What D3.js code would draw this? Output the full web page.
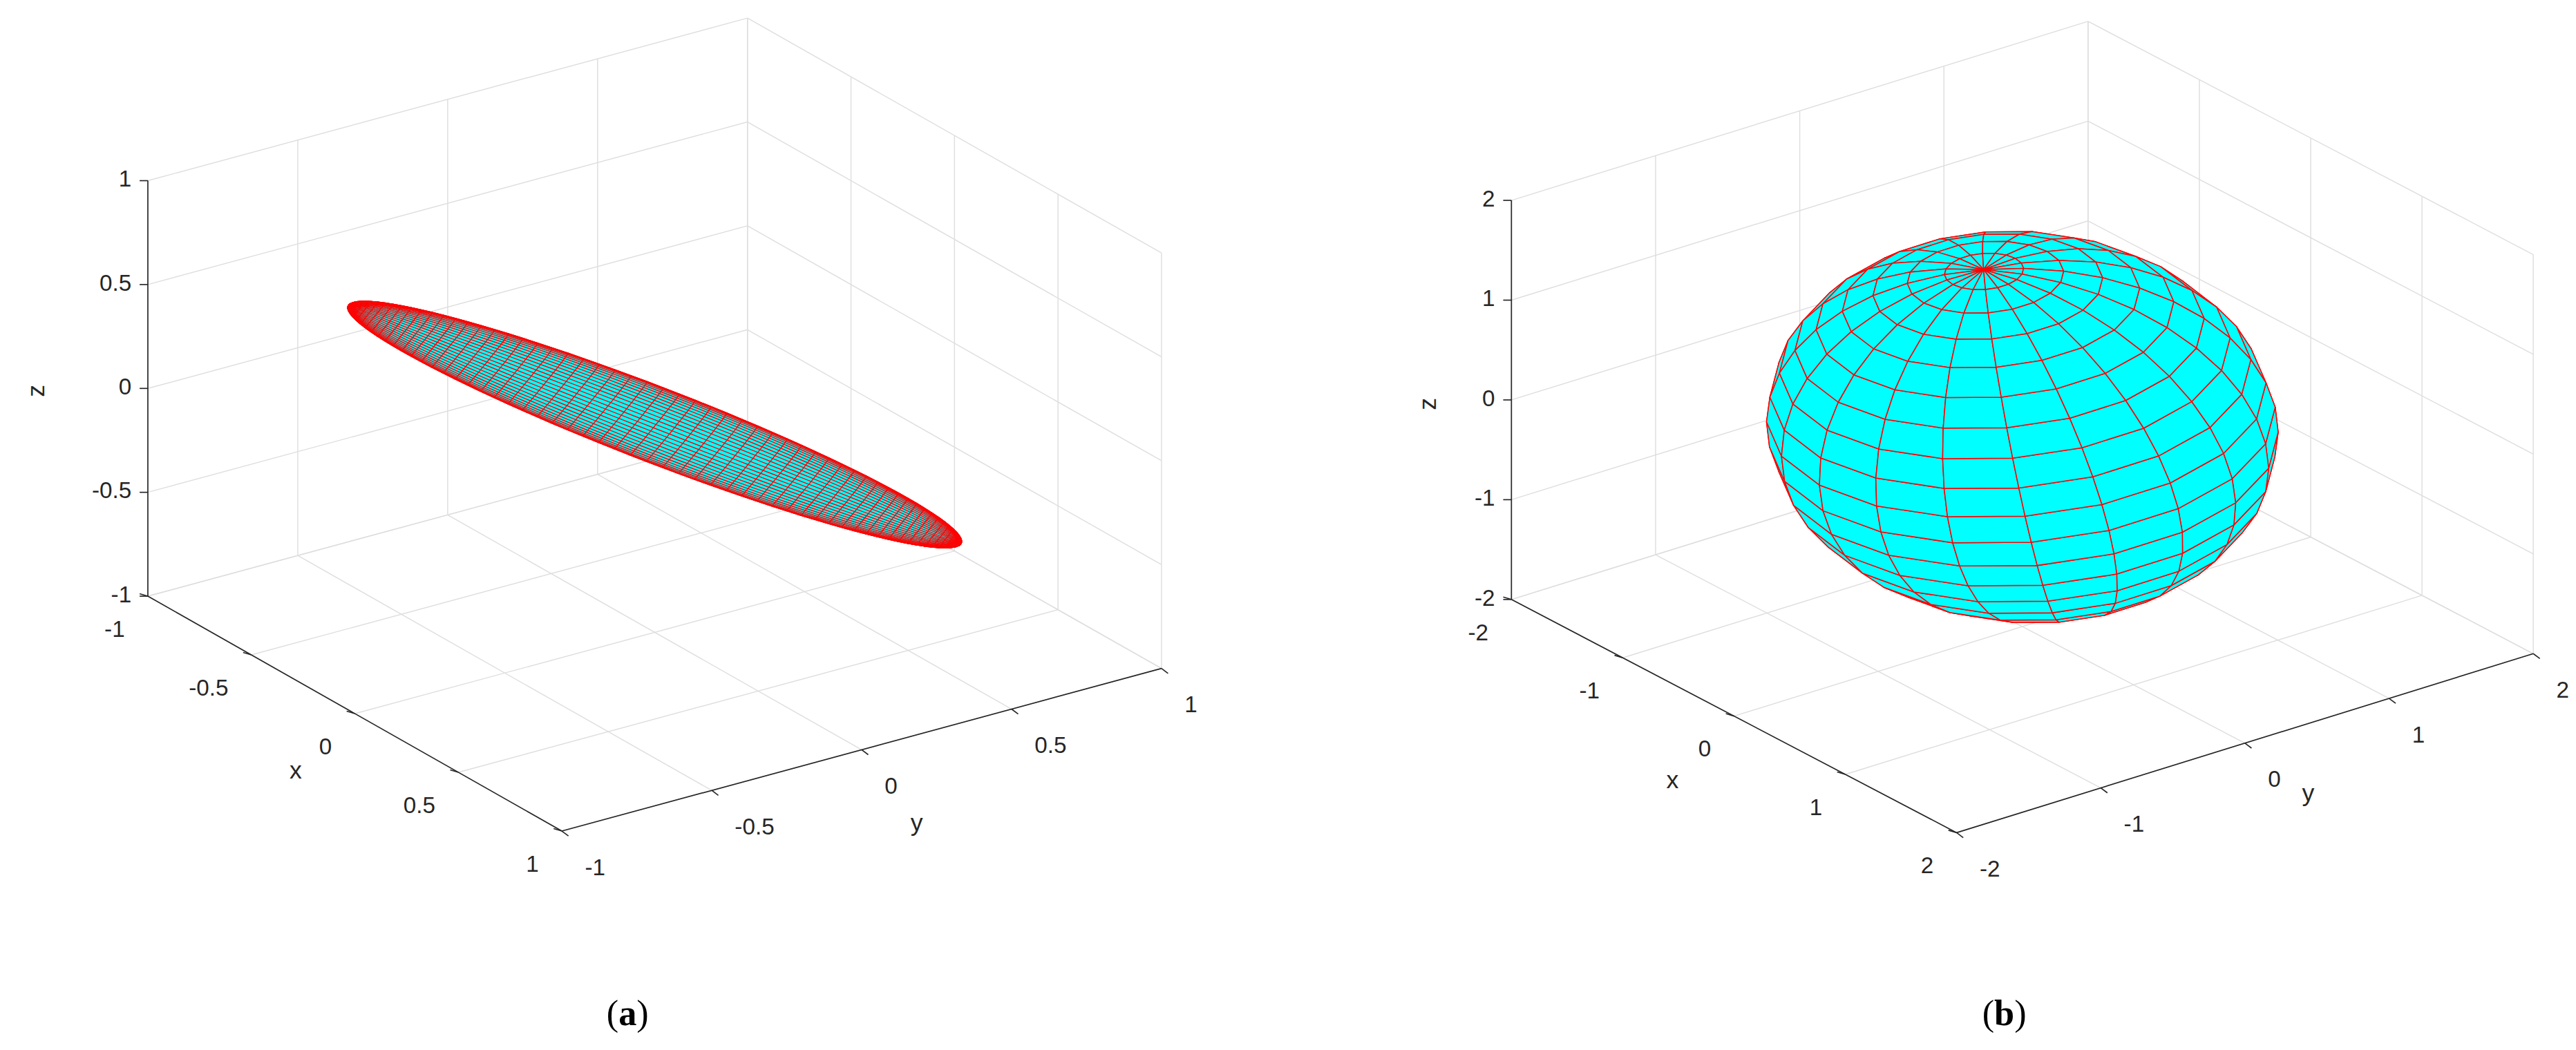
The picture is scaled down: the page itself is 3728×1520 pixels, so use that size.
<!DOCTYPE html>
<html><head><meta charset="utf-8">
<script src="https://cdn.jsdelivr.net/npm/d3@7"></script>
<style>body{margin:0;background:#fff}</style></head>
<body><svg id="c" width="3728" height="1520"></svg>
<script>
// ---- data ----
const ticksA = [-1, -0.5, 0, 0.5, 1];
const ticksB = [-2, -1, 0, 1, 2];
const labelsA = ["-1", "-0.5", "0", "0.5", "1"];
const labelsB = ["-2", "-1", "0", "1", "2"];
// ellipsoid (a): flat disc, axis vectors (long axis = pole axis)
const discLong = [0.03, 1, -0.95];
const discWide = [0.018, -0.095, -0.1];
const discDepth = [0.6, -0.41, 0.5];
const meshA = 60;
// ellipsoid (b): semi-axes and tilt (deg about x)
const radiiB = [1.4, 1.4, 1.72];
const tiltB = 9;
const meshB = 20;
const captions = ["a", "b"];

const K = 3728 / 1568;
const svg = d3.select("#c");
const root = svg.append("g").attr("transform", `scale(${K})`);
const view = [1, -0.685, 0.832];
const font = "'Liberation Sans', Arial, sans-serif";

function panel(cfg) {
  const g = root.append("g");
  const [lo, hi] = [cfg.ticks[0], cfg.ticks[cfg.ticks.length - 1]];
  const sx = d3.scaleLinear().domain([lo, hi]).range([0, 1]);
  const P = (x, y, z) => {
    const u = sx(x), v = sx(y), w = sx(z);
    return [cfg.o[0] + cfg.ex[0] * u + cfg.ey[0] * v,
            cfg.o[1] + cfg.ex[1] * u + cfg.ey[1] * v + cfg.ez * w];
  };
  const line = (a, b, col, wd) => g.append("line")
    .attr("x1", a[0]).attr("y1", a[1]).attr("x2", b[0]).attr("y2", b[1])
    .attr("stroke", col).attr("stroke-width", wd);
  const grid = "#dedede";
  cfg.ticks.forEach(t => {
    line(P(t, lo, lo), P(t, hi, lo), grid, 0.6);
    line(P(lo, t, lo), P(hi, t, lo), grid, 0.6);
    line(P(lo, t, lo), P(lo, t, hi), grid, 0.6);
    line(P(lo, lo, t), P(lo, hi, t), grid, 0.6);
    line(P(t, hi, lo), P(t, hi, hi), grid, 0.6);
    line(P(lo, hi, t), P(hi, hi, t), grid, 0.6);
  });
  const ax = "#262626";
  line(P(lo, lo, lo), P(lo, lo, hi), ax, 0.7);
  line(P(lo, lo, lo), P(hi, lo, lo), ax, 0.7);
  line(P(hi, lo, lo), P(hi, hi, lo), ax, 0.7);
  const txt = (p, s, anchor) => g.append("text").attr("x", p[0]).attr("y", p[1])
    .attr("text-anchor", anchor).attr("dominant-baseline", "middle")
    .attr("font-family", font).attr("font-size", 14).attr("fill", ax).text(s);
  cfg.ticks.forEach((t, i) => {
    let p = P(lo, lo, t); line(p, [p[0] - 5, p[1]], ax, 0.7);
    txt([p[0] - 10, p[1]], cfg.labels[i], "end");
    p = P(t, lo, lo); line(p, [p[0] - 5, p[1] - 1.5], ax, 0.7);
    txt([p[0] - 14, p[1] + 21], cfg.labels[i], "end");
    p = P(hi, t, lo); line(p, [p[0] + 4, p[1] + 3], ax, 0.7);
    txt([p[0] + 14, p[1] + 23], cfg.labels[i], "start");
  });
  const lab = (p, s, rot) => g.append("text")
    .attr("transform", `translate(${p[0]},${p[1]}) rotate(${rot})`)
    .attr("text-anchor", "middle").attr("dominant-baseline", "middle")
    .attr("font-family", font).attr("font-size", 15).attr("fill", ax).text(s);
  lab(cfg.zl, "z", -90); lab(cfg.xl, "x", 0); lab(cfg.yl, "y", 0);

  const n = cfg.n, pts = [];
  for (let i = 0; i <= n; i++) {
    const row = [];
    const phi = -Math.PI / 2 + Math.PI * i / n;
    for (let j = 0; j <= n; j++) {
      const th = -Math.PI + 2 * Math.PI * j / n;
      row.push(cfg.surf(phi, th));
    }
    pts.push(row);
  }
  const faces = [];
  for (let i = 0; i < n; i++) for (let j = 0; j < n; j++) {
    const q = [pts[i][j], pts[i][j + 1], pts[i + 1][j + 1], pts[i + 1][j]];
    const d = d3.mean(q, p => p[0] * view[0] + p[1] * view[1] + p[2] * view[2]);
    faces.push({q, d});
  }
  faces.sort((a, b) => a.d - b.d);
  g.append("g").selectAll("path").data(faces).join("path")
    .attr("d", f => "M" + f.q.map(p => P(p[0], p[1], p[2]).join(",")).join("L") + "Z")
    .attr("fill", "#00ffff").attr("stroke", "#ff0000").attr("stroke-width", cfg.sw)
    .attr("stroke-linejoin", "round");

  const c = g.append("text").attr("x", cfg.cap[0]).attr("y", cfg.cap[1])
    .attr("text-anchor", "middle").attr("font-family", "'Liberation Serif', 'Times New Roman', serif")
    .attr("font-size", 22).attr("fill", "#000");
  c.append("tspan").text("(");
  c.append("tspan").attr("font-weight", "bold").text(cfg.caption);
  c.append("tspan").text(")");
}

panel({
  ticks: ticksA, labels: labelsA, o: [90, 363], ex: [252, 143], ey: [365, -99], ez: -253,
  zl: [23, 238], xl: [180, 470], yl: [558, 502], cap: [382, 624], caption: captions[0],
  n: meshA, sw: 0.5,
  surf: (phi, th) => {
    const a = Math.sin(phi), b = Math.cos(phi) * Math.cos(th), c = Math.cos(phi) * Math.sin(th);
    return [0, 1, 2].map(k => a * discLong[k] + b * discWide[k] + c * discDepth[k]);
  }
});
panel({
  ticks: ticksB, labels: labelsB, o: [920, 365], ex: [271, 142], ey: [351, -109], ez: -243,
  zl: [870, 246], xl: [1018, 476], yl: [1405, 484], cap: [1220, 624], caption: captions[1],
  n: meshB, sw: 0.65,
  surf: (phi, th) => {
    const x = radiiB[0] * Math.cos(phi) * Math.cos(th);
    const y = radiiB[1] * Math.cos(phi) * Math.sin(th);
    const z = radiiB[2] * Math.sin(phi);
    const t = tiltB * Math.PI / 180;
    return [x, y * Math.cos(t) - z * Math.sin(t), y * Math.sin(t) + z * Math.cos(t)];
  }
});
</script></body></html>
